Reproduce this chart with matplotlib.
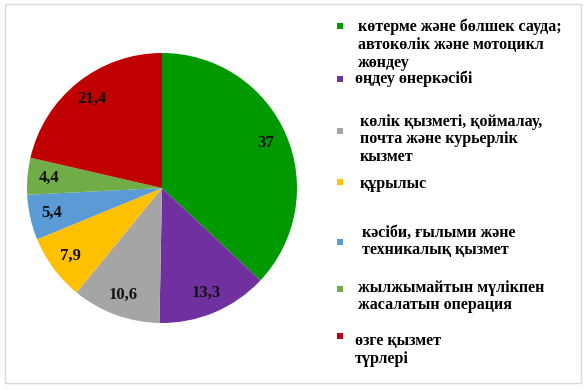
"""
Pie chart: structure by kind of activity (Kazakh labels).
"""
import matplotlib
matplotlib.use("Agg")
import matplotlib.pyplot as plt
from matplotlib.patches import Rectangle

plt.rcParams["font.family"] = ["Liberation Serif", "DejaVu Serif"]

# ── Data ──────────────────────────────────────────────────────────────────────
categories = [
    "көтерме және бөлшек сауда;\nавтокөлік және мотоцикл\nжөндеу",
    "өңдеу өнеркәсібі",
    "көлік қызметі, қоймалау,\nпочта және курьерлік\nкызмет",
    "құрылыс",
    "кәсіби, ғылыми және\nтехникалық қызмет",
    "жылжымайтын мүлікпен\nжасалатын операция",
    "өзге қызмет\nтүрлері",
]
values = [37, 13.3, 10.6, 7.9, 5.4, 4.4, 21.4]
colors = ["#009900", "#7030A0", "#A5A5A5", "#FFC000", "#5B9BD5", "#70AD47", "#C00000"]

W, H = 587, 390
fig = plt.figure(figsize=(W / 100, H / 100), dpi=100)
fig.patch.set_facecolor("white")

# outer frame
fig.patches.append(Rectangle((5 / W, 1 - 383 / H), 576 / W, 379 / H,
                             transform=fig.transFigure, fill=False,
                             edgecolor="#d9d9d9", lw=1.0))

# ── Pie ───────────────────────────────────────────────────────────────────────
cx, cy, r = 162, 188, 135
ax = fig.add_axes([(cx - r) / W, (H - cy - r) / H, 2 * r / W, 2 * r / H])

def fmt(v):
    return f"{v:g}".replace(".", ",")

label_iter = iter([fmt(v) for v in values])
wedges, _, autotexts = ax.pie(values, colors=colors, startangle=90,
                              counterclock=False, radius=1,
                              autopct=lambda p: next(label_iter),
                              pctdistance=0.84,
                              wedgeprops=dict(linewidth=0))
for t in autotexts:
    t.set_fontsize(12)
    t.set_fontweight("bold")
    t.set_color("#111111")
ax.set_xlim(-1, 1)
ax.set_ylim(-1, 1)
ax.axis("off")

# ── Legend (manual, to follow the original spacing) ──────────────────────────
marker_y = [26, 79, 131, 182, 242, 289, 336]
text_y = [27, 79, 122, 185, 233, 288, 342]
text_x = [358, 355, 360, 360, 362, 358, 355]
for lab, col, my, ty, tx in zip(categories, colors, marker_y, text_y, text_x):
    fig.patches.append(Rectangle((337 / W, 1 - (my + 3) / H), 6 / W, 6 / H,
                                 transform=fig.transFigure,
                                 facecolor=col, edgecolor="none"))
    fig.text(tx / W, 1 - (ty - 8.5) / H, lab, ha="left", va="top",
             fontsize=11.5, fontweight="bold", linespacing=1.15)

fig.savefig("out.png", dpi=100, facecolor="white")
